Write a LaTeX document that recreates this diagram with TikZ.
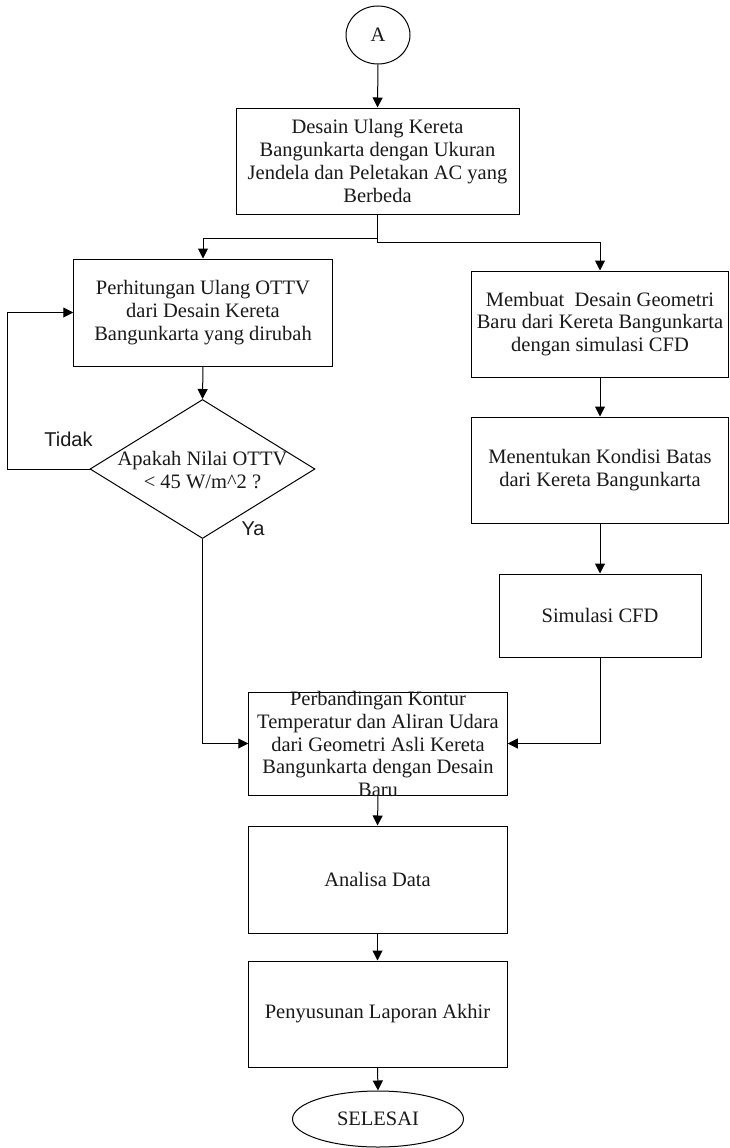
\documentclass[tikz,border=0pt]{standalone}
\usepackage{fontspec}
\setmainfont{Liberation Serif}
\newfontfamily\arialf{Liberation Sans}
\usetikzlibrary{arrows.meta,shapes.geometric}
\begin{document}
\begin{tikzpicture}[x=1pt,y=-1pt,
  every node/.style={font=\fontsize{20.5}{22.7}\selectfont, text=black!90},
  proc/.style={draw, line width=1pt, inner sep=0pt, align=center},
  term/.style={draw, ellipse, line width=1pt, inner sep=0pt},
  dec/.style={draw, diamond, line width=1pt, inner sep=0pt},
  plain/.style={inner sep=0pt, align=center},
  yn/.style={inner sep=0pt, font=\arialf\fontsize{20}{22}\selectfont},
  arr/.style={line width=1pt, -{Triangle[length=10pt,width=10pt]}},
  ln/.style={line width=1pt}]
\useasboundingbox (0,0) rectangle (730,1148);
\fill[white] (0,0) rectangle (730,1148);

\node[term, minimum width=64pt, minimum height=58pt] (A) at (378,35) {A};
\node[proc, minimum width=283pt, minimum height=106pt] (b1) at (377.5,161)
  {Desain Ulang Kereta\\Bangunkarta dengan Ukuran\\Jendela dan Peletakan AC yang\\Berbeda};
\node[proc, minimum width=258.5pt, minimum height=107pt] (b2) at (203,312.5)
  {Perhitungan Ulang OTTV\\dari Desain Kereta\\Bangunkarta yang dirubah};
\node[proc, minimum width=257.5pt, minimum height=106pt] (b3) at (600,324)
  {Membuat~ Desain Geometri\\Baru dari Kereta Bangunkarta\\dengan simulasi CFD};
\node[dec, minimum width=225pt, minimum height=139pt] (dia) at (202.5,469) {};
\node[plain] (diat) at (202.5,470) {Apakah Nilai OTTV\\< 45 W/m\^{}2 ?};
\node[proc, minimum width=257.5pt, minimum height=106pt] (b4) at (600,470)
  {Menentukan Kondisi Batas\\dari Kereta Bangunkarta};
\node[proc, minimum width=202pt, minimum height=83pt] (sim) at (600,615.5)
  {Simulasi CFD};
\node[proc, minimum width=258.5pt, minimum height=103pt] (b5) at (378,743.5) {};
\node[plain] (b5t) at (378,744)
  {Perbandingan Kontur\\Temperatur dan Aliran Udara\\dari Geometri Asli Kereta\\Bangunkarta dengan Desain\\Baru};
\node[proc, minimum width=259pt, minimum height=107pt] (b6) at (377.5,879.5)
  {Analisa Data};
\node[proc, minimum width=259pt, minimum height=106pt] (b7) at (377.5,1014)
  {Penyusunan Laporan Akhir};
\node[term, minimum width=171pt, minimum height=56pt] (end) at (378,1119) {SELESAI};

\node[yn] (tidak) at (68.5,439) {Tidak};
\node[yn] (ya) at (253,529) {Ya};

\draw[arr] (A.south) -- (b1.north);
\draw[arr] (b1.south) -- ++(0,24) -| (b2.north);
\draw[arr] (b1.south) -- ++(0,28) -| (b3.north);
\draw[arr] (b2.south) -- (dia.north);
\draw[arr] (dia.west) -- ++(-82,0) |- (b2.west);
\draw[arr] (dia.south) |- (b5.west);
\draw[arr] (b3.south) -- (b4.north);
\draw[arr] (b4.south) -- (sim.north);
\draw[arr] (sim.south) |- (b5.east);
\draw[arr] (b5.south) -- (b6.north);
\draw[arr] (b6.south) -- (b7.north);
\draw[arr] (b7.south) -- (end.north);
\end{tikzpicture}
\end{document}
